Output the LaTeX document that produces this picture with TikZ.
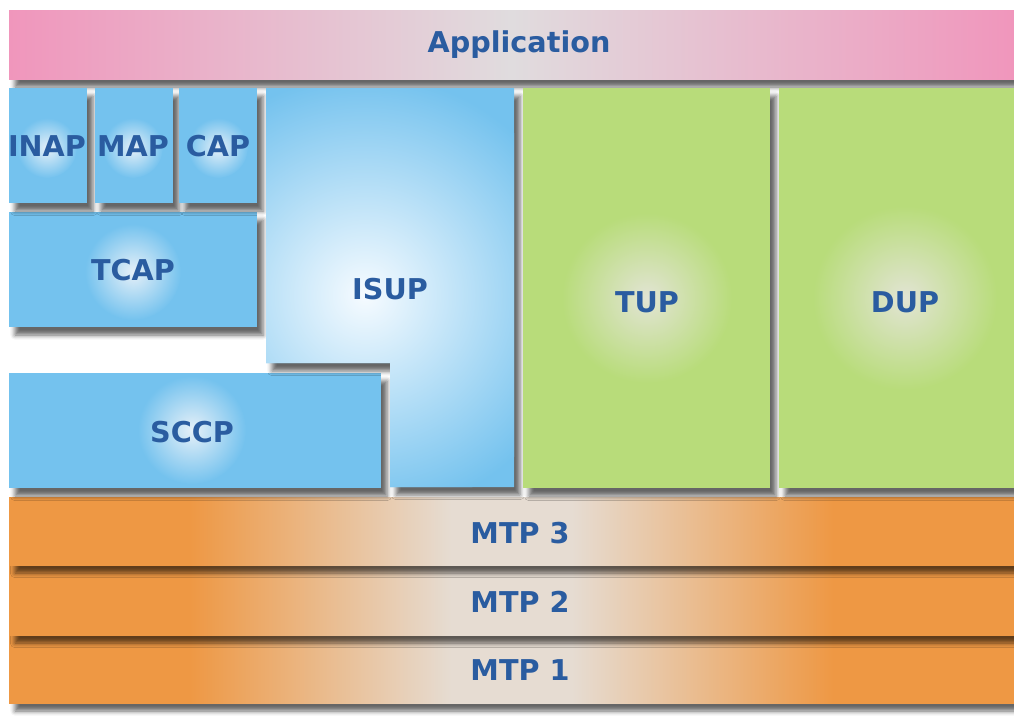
\documentclass[tikz,border=0pt]{standalone}
\usepackage{fontspec}
\setmainfont{DejaVu Sans}
\usetikzlibrary{shadows.blur}

\definecolor{txtblue}{RGB}{42,92,160}
\definecolor{boxblue}{RGB}{116,194,238}
\definecolor{glowblue}{RGB}{230,240,248}
\definecolor{isupwhite}{RGB}{246,251,255}
\definecolor{boxgreen}{RGB}{184,220,122}
\definecolor{glowgreen}{RGB}{226,228,212}
\definecolor{mtporange}{RGB}{238,152,68}
\definecolor{mtpbeige}{RGB}{230,220,210}
\definecolor{apppink}{RGB}{240,150,188}
\definecolor{appgray}{RGB}{224,220,222}

\pgfdeclarehorizontalshading{mtpband}{100bp}{color(0bp)=(mtporange); color(34bp)=(mtporange); color(47bp)=(mtpbeige); color(53bp)=(mtpbeige); color(66bp)=(mtporange); color(100bp)=(mtporange)}

\tikzset{every picture/.style={line width=0.75pt}}
\tikzset{
  layershadow/.style={blur shadow={shadow xshift=4.5pt, shadow yshift=-6pt, shadow blur radius=3.5pt, shadow blur extra rounding=0pt, shadow opacity=60}},
  layerlabel/.style={font=\fontsize{21.5}{25}\selectfont\bfseries, text=txtblue, inner sep=0pt, anchor=base},
  blueglow/.style={inner color=glowblue, outer color=boxblue},
  greenglow/.style={inner color=glowgreen, outer color=boxgreen},
}

\begin{document}
\begin{tikzpicture}[x=0.75pt,y=0.75pt,yscale=-1,xscale=1]
\useasboundingbox (0,0) rectangle (1014,719);

% Application
\shade [layershadow, left color=apppink, right color=apppink, middle color=appgray] (9,10) rectangle (1014,79);

% MTP layers
\shade [layershadow, shading=mtpband] (9,635) rectangle (1014,703);
\shade [layershadow, shading=mtpband] (9,565) rectangle (1014,635);
\shade [layershadow, shading=mtpband] (9,497) rectangle (1014,565);

% SCCP
\fill [layershadow, boxblue] (9,373) rectangle (381,488);
% TCAP
\fill [layershadow, boxblue] (9,212) rectangle (257,327);
% INAP, MAP, CAP
\fill [layershadow, boxblue] (9,88) rectangle (87,203);
\fill [layershadow, boxblue] (95,88) rectangle (173,203);
\fill [layershadow, boxblue] (179,88) rectangle (257,203);
% ISUP
\fill [layershadow, boxblue] (266,88) -- (514,88) -- (514,487) -- (390,487) -- (390,363) -- (266,363) -- cycle;
\begin{scope}
\clip (266,88) -- (514,88) -- (514,487) -- (390,487) -- (390,363) -- (266,363) -- cycle;
\shade [inner color=isupwhite, outer color=boxblue] (365,295) circle (220);
\end{scope}
% TUP, DUP
\fill [layershadow, boxgreen] (523,88) rectangle (770,488);
\fill [layershadow, boxgreen] (779,88) rectangle (1014,488);

% Glows
\shade [blueglow] (47,148) circle (30);
\shade [blueglow] (133,148) circle (30);
\shade [blueglow] (218,148) circle (30);
\shade [blueglow] (133,272) circle (48);
\shade [blueglow] (192,430) circle (54);
\shade [greenglow] (647,298) circle (85);
\shade [greenglow] (905,298) circle (92);

% Text Node
\node [layerlabel] (app) at (519,52) {Application};
\node [layerlabel] (inap) at (47,156) {INAP};
\node [layerlabel] (map) at (133,156) {MAP};
\node [layerlabel] (cap) at (218,156) {CAP};
\node [layerlabel] (tcap) at (133,280) {TCAP};
\node [layerlabel] (isup) at (390,299) {ISUP};
\node [layerlabel] (sccp) at (192,442) {SCCP};
\node [layerlabel] (tup) at (647,312) {TUP};
\node [layerlabel] (dup) at (905,312) {DUP};
\node [layerlabel] (mtp3) at (520,543) {MTP 3};
\node [layerlabel] (mtp2) at (520,612) {MTP 2};
\node [layerlabel] (mtp1) at (520,680) {MTP 1};

\end{tikzpicture}
\end{document}
